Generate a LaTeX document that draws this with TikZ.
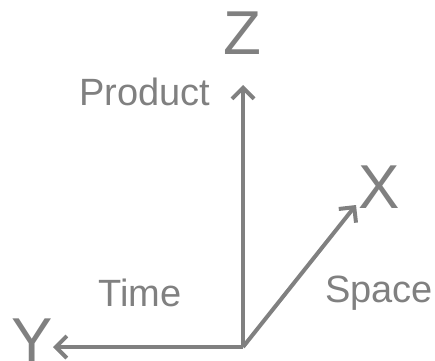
\documentclass[tikz,border=0pt]{standalone}
\usepackage{fontspec}
\setmainfont{Liberation Sans}
\usetikzlibrary{arrows.meta}
\definecolor{axisgray}{HTML}{808080}
\begin{document}
\begin{tikzpicture}[x=1pt, y=1pt, line width=4pt, color=axisgray,
  axis/.style={-{Straight Barb[length=11pt,width=22pt,line width=4pt]}},
  big/.style={font=\fontsize{62}{62}\selectfont, text=axisgray},
  small/.style={font=\fontsize{38}{38}\selectfont, text=axisgray}]
\useasboundingbox (0,0) rectangle (435,360);
\coordinate (o) at (243,13);
\coordinate (zend) at (243,275);
\coordinate (xend) at (356,155);
\coordinate (yend) at (53,13);
\draw[axis] (o) -- (zend);
\draw[axis] (o) -- (xend);
\draw[axis] (o) -- (yend);
\node[big] (zlabel) at (242,327) {Z};
\node[big] (xlabel) at (379,173) {X};
\node[big] (ylabel) at (32,20) {Y};
\node[small] (product) at (145,268) {Product};
\node[small] (space) at (379,67) {Space};
\node[small] (time) at (140,67) {Time};
\end{tikzpicture}
\end{document}
